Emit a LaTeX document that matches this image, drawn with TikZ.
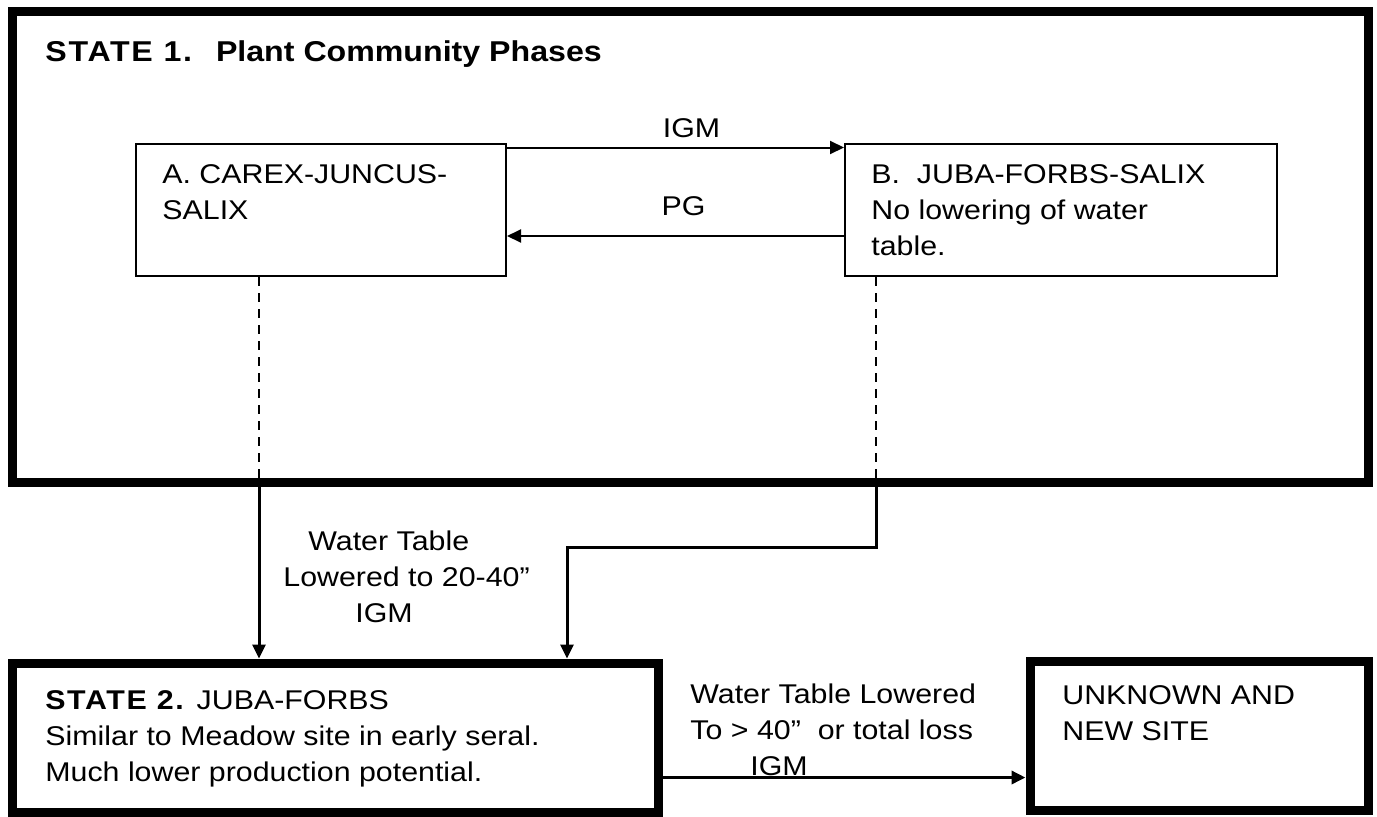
\documentclass[tikz,border=0pt]{standalone}
\usepackage{fontspec}
\setmainfont{Liberation Sans}[FakeStretch=1.12]
\usetikzlibrary{arrows.meta,positioning}

\begin{document}
\begin{tikzpicture}[x=0.5bp,y=-0.5bp,>={Triangle[length=7bp,width=6.5bp]},
  txt/.style={font=\fontsize{13.6}{18}\selectfont,inner sep=0pt,align=left},
  statebox/.style={draw,line width=4.5bp,inner sep=0pt},
  phasebox/.style={draw,line width=1bp,inner sep=0pt},
  link/.style={line width=1.5bp,->},
  pathway/.style={line width=1bp,->},
  hidden/.style={line width=1bp,dash pattern=on 4.5bp off 3.5bp}]

\useasboundingbox (0,0) rectangle (1377,816);

% ============================================================
% 1. STATE 1 (PLANT COMMUNITY PHASES)
% ============================================================

\node[statebox,minimum width=677.5bp,minimum height=235bp] (state1) at (690.5,247) {};
\node[txt,anchor=base west,font=\fontsize{14.4}{18}\selectfont] (title1) at (45,61)
  {\textbf{{\addfontfeature{LetterSpace=6}STATE 1.}\hspace{12bp}Plant Community Phases}};

% Phases A and B
\node[phasebox,minimum width=185bp,minimum height=66bp] (phaseA) at (321,210) {};
\node[phasebox,minimum width=216bp,minimum height=66bp] (phaseB) at (1061,210) {};

\node[txt,below right=10.5bp and 13.5bp of phaseA.north west] (textA)
  {A. CAREX-JUNCUS-\\SALIX};
\node[txt,below right=10.5bp and 13.5bp of phaseB.north west] (textB)
  {B.\ \ JUBA-FORBS-SALIX\\No lowering of water\\table.};

% Pathways between phases
\draw[pathway] ([yshift=-2.25bp]phaseA.north east) -- ([yshift=-2.25bp]phaseB.north west)
  node[txt,midway,above=4.5bp,xshift=8bp] (igmAB) {IGM};
\draw[pathway] ([yshift=-13bp]phaseB.west) -- ([yshift=-13bp]phaseA.east)
  node[txt,midway,above=9.5bp,xshift=4bp] (pgBA) {PG};

% ============================================================
% 2. STATE 2 AND UNKNOWN SITE
% ============================================================

\node[statebox,minimum width=322.5bp,minimum height=74.5bp] (state2) at (335.5,737.5) {};
\node[statebox,minimum width=169bp,minimum height=74.5bp] (unknown) at (1199,735.5) {};

\node[txt,below right=16bp and 18.25bp of state2.north west] (text2)
  {\textbf{\addfontfeature{LetterSpace=6}STATE 2.} JUBA-FORBS\\
   Similar to Meadow site in early seral.\\
   Much lower production potential.};
\node[txt,below right=14.5bp and 18.25bp of unknown.north west] (textU)
  {UNKNOWN AND\\NEW SITE};

% ============================================================
% 3. TRANSITIONS
% ============================================================

% A down to State 2
\coordinate (dropA) at ([xshift=-31bp]phaseA.south);
\draw[hidden] (dropA) -- (dropA |- state1.south);
\draw[link] (dropA |- state1.south) -- (dropA |- state2.north);

% B down, jog left, into State 2
\coordinate (dropB) at ([xshift=-92.5bp]phaseB.south);
\coordinate (jogB) at (567,547);
\draw[hidden] (dropB) -- (dropB |- state1.south);
\draw[link] (dropB |- state1.south) |- (jogB) -- (jogB |- state2.north);

\node[txt,anchor=north west] (lowerA) at (283,530.5)
  {\hspace*{12.5bp}Water Table\\Lowered to 20-40”\\\hspace*{36bp}IGM};

% State 2 to unknown site
\coordinate (outS2) at ([yshift=-20bp]state2.east);
\draw[link,line width=1.7bp] (outS2) -- (outS2 -| unknown.west);

\node[txt,anchor=north west] (lowerB) at (690,683.5)
  {Water Table Lowered\\To > 40”\ \ or total loss\\\hspace*{30bp}IGM};

\end{tikzpicture}
\end{document}
